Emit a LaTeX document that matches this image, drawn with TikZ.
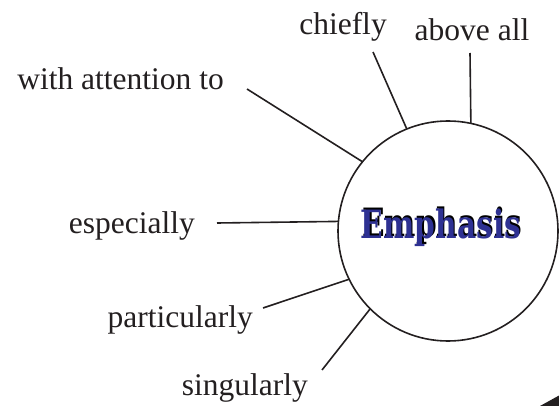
\documentclass[tikz,border=0pt]{standalone}
\usepackage{fontspec}
\setmainfont{Liberation Serif}
\newfontfamily\emphfont{DejaVu Serif}
\definecolor{txtgray}{HTML}{231F20}
\definecolor{emblue}{HTML}{2E3192}
\begin{document}
\begin{tikzpicture}[x=1pt,y=-1pt,
  lab/.style={inner sep=0pt,text=txtgray,font=\fontsize{31.5}{36}\selectfont},
  spoke/.style={line width=1.6pt,draw=txtgray},
  hub/.style={circle,draw=txtgray,line width=1.6pt,minimum size=220pt,inner sep=0pt,outer sep=0pt},
  ttl/.style={inner sep=0pt,anchor=base,font=\emphfont\bfseries\fontsize{39}{42}\selectfont}]
\useasboundingbox (0,0) rectangle (559,406);
\node[hub] (c) at (448,231) {};
% title with shadow
\node[ttl,text=black] (tsh) at (442.2,236.8) {\scalebox{0.76}[1]{Emphasis}};
\node[ttl,text=emblue] (t) at (441,238) {\scalebox{0.76}[1]{Emphasis}};
% labels
\node[lab,anchor=base east] (l1) at (224,90) {with attention to};
\node[lab,anchor=base] (l2) at (343,35) {chiefly};
\node[lab,anchor=base] (l3) at (472,41) {above all};
\node[lab,anchor=base east] (l4) at (195,233) {especially};
\node[lab,anchor=base east] (l5) at (253,327) {particularly};
\node[lab,anchor=base east] (l6) at (308,395) {singularly};
% free ends
\coordinate (e1) at (247,89);
\coordinate (e2) at (373,52);
\coordinate (e3) at (470,53);
\coordinate (e4) at (217,223);
\coordinate (e5) at (263,308);
\coordinate (e6) at (322,370);
\draw[spoke] (e1) -- (c.141.7);
\draw[spoke] (e2) -- (c.112.7);
\draw[spoke] (e3) -- (c.78.6);
\draw[spoke] (e4) -- (c.175.8);
\draw[spoke] (e5) -- (c.206.1);
\draw[spoke] (e6) -- (c.225.4);
% partial shape at bottom right corner
\fill[txtgray] (540,406) -- (559,395.5) -- (559,406) -- cycle;
\end{tikzpicture}
\end{document}
